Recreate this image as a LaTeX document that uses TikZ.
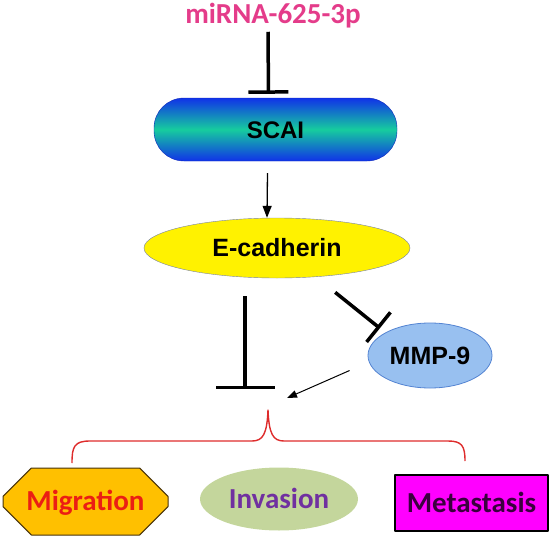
\documentclass[tikz,border=0pt]{standalone}
\usepackage{fontspec}
\setmainfont{Liberation Sans}
\newfontfamily\calib{Carlito}
\usetikzlibrary{arrows.meta,shapes.geometric,shapes.misc}
\definecolor{mirpink}{RGB}{228,60,138}
\definecolor{scaiblue}{RGB}{16,50,232}
\definecolor{scaigreen}{RGB}{22,204,158}
\definecolor{ecadline}{RGB}{120,130,165}
\definecolor{mmpfill}{RGB}{152,192,240}
\definecolor{mmpline}{RGB}{84,132,210}
\definecolor{migfill}{RGB}{255,192,0}
\definecolor{migline}{RGB}{70,50,10}
\definecolor{migtext}{RGB}{235,30,20}
\definecolor{invfill}{RGB}{196,214,156}
\definecolor{invtext}{RGB}{112,48,160}
\definecolor{metafill}{RGB}{255,0,255}
\definecolor{metatext}{RGB}{58,0,62}
\definecolor{bracered}{RGB}{222,44,44}
\begin{document}
\begin{tikzpicture}[>=stealth,line join=round,x=1pt,y=-1pt,
	genefont/.style={inner sep=0pt,text height=#1,text depth=0pt},
	gene/.style={genefont=17.4pt,font=\bfseries\fontsize{24}{28}\selectfont},
	protein/.style={genefont=17.9pt,font=\bfseries\fontsize{25}{30}\selectfont},
	cell/.style={genefont=18.7pt,font=\calib\bfseries\fontsize{29}{34}\selectfont},
	act/.style={line width=1.3pt,-{Triangle[length=12pt,width=9pt]}},
	inhibit/.style={line width=3.5pt,-{Bar[width=#1]}},
	inhibit/.default=40pt]
\useasboundingbox (0,0) rectangle (550,536);
\node[font=\calib\bfseries\fontsize{29}{34}\selectfont,text=mirpink,anchor=base,inner sep=2pt] (mir) at (273,23) {miRNA-625-3p};
\node[gene,rounded corners=30pt,draw=scaiblue!80!black,line width=0.4pt,top color=scaiblue,bottom color=scaiblue,middle color=scaigreen,
	minimum width=243pt,minimum height=63pt] (scai) at (275.5,129.5) {SCAI};
\node[protein,ellipse,draw=ecadline,fill=yellow,minimum width=266pt,minimum height=60pt] (ecad) at (277,248) {E-cadherin};
\node[protein,ellipse,draw=mmpline,line width=0.8pt,fill=mmpfill,minimum width=124pt,minimum height=65pt] (mmp) at (430,355.5) {MMP-9};
\coordinate (block) at (245,389);
\node[cell,chamfered rectangle,chamfered rectangle xsep=13pt,chamfered rectangle ysep=19pt,draw=migline,line width=1pt,
	fill=migfill,text=migtext,minimum width=165pt,minimum height=67pt] (migr) at (85.5,501.5) {Migration};
\node[cell,ellipse,fill=invfill,text=invtext,minimum width=158pt,minimum height=63pt] (inv) at (279,499) {Invasion};
\node[cell,rectangle,draw=black,line width=1.2pt,fill=metafill,text=metatext,minimum width=153pt,minimum height=56pt] (meta) at (471.5,503) {Metastasis};

\draw[inhibit] ([xshift=-5pt,yshift=-2pt]mir.south) -- ([xshift=-7pt,yshift=4pt]scai.north);
\draw[act] ([xshift=-8pt,yshift=-12pt]scai.south) -- ([xshift=-10pt]ecad.north);
\draw[inhibit=59pt] (ecad.south -| block) ++(0,18) -- (block);
\draw[inhibit=38pt] (ecad.south east) ++(-36,23) -- ([xshift=-6pt,yshift=4pt]mmp.north west);
\draw[act,line width=1pt,-{Triangle[length=10pt,width=7.5pt]}] ([xshift=-18pt,yshift=-15pt]mmp.west) -- ([xshift=42pt,yshift=-9pt]block);
\draw[bracered,line width=1.4pt] (72,463) .. controls (72,447) and (74,441) .. (90,441) -- (252,441)
	.. controls (263,441) and (267,434) .. (268,410) .. controls (269,434) and (273,441) .. (284,441)
	-- (448,441) .. controls (462,441) and (465,446) .. (465,461);
\end{tikzpicture}
\end{document}
